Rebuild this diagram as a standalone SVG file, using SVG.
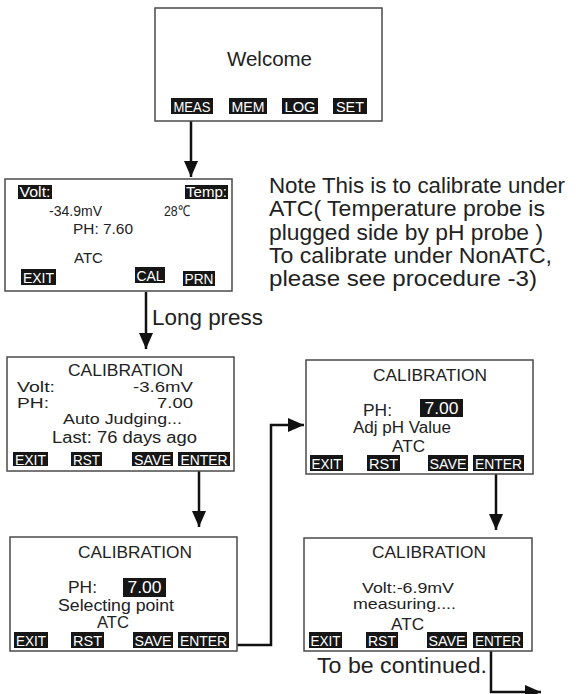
<svg xmlns="http://www.w3.org/2000/svg" width="579" height="694" viewBox="0 0 579 694">
<defs>
<style>
.box{fill:#fff;stroke:#4a4a4a;stroke-width:1.5}
.t{font-family:"Liberation Sans",Arial,sans-serif;fill:#222}
.lb{fill:#161616}
.lt{font-family:"Liberation Sans",Arial,sans-serif;fill:#fff;text-anchor:middle}
.c{fill:none;stroke:#111;stroke-width:2.5}
</style>
<marker id="ah" markerWidth="16" markerHeight="14" refX="16" refY="7" orient="auto" markerUnits="userSpaceOnUse"><path d="M0,0 L16,7 L0,14 z" fill="#111"/></marker>
</defs>
<rect width="579" height="694" fill="#fff"/>

<g id="connectors">
<path class="c" d="M191,121 V177" marker-end="url(#ah)"/>
<path class="c" d="M146,292 V349" marker-end="url(#ah)"/>
<path class="c" d="M199,471 V527" marker-end="url(#ah)"/>
<path class="c" d="M237,645 H271 V425 H304" marker-end="url(#ah)"/>
<path class="c" d="M496,474 V530" marker-end="url(#ah)"/>
<path class="c" d="M491,651 V692 H541" marker-end="url(#ah)"/>
</g>

<g id="welcome">
<rect class="box" x="155" y="8" width="227" height="113"/>
<text class="t" x="227" y="66" font-size="20" textLength="85" lengthAdjust="spacingAndGlyphs">Welcome</text>
<rect class="lb" x="171" y="98" width="42" height="16"/><text class="lt" x="192" y="111.5" font-size="14" textLength="37" lengthAdjust="spacingAndGlyphs">MEAS</text>
<rect class="lb" x="229" y="98" width="38" height="16"/><text class="lt" x="248" y="111.5" font-size="14" textLength="33" lengthAdjust="spacingAndGlyphs">MEM</text>
<rect class="lb" x="282" y="98" width="36" height="16"/><text class="lt" x="300" y="111.5" font-size="14" textLength="31" lengthAdjust="spacingAndGlyphs">LOG</text>
<rect class="lb" x="333" y="98" width="34" height="16"/><text class="lt" x="350" y="111.5" font-size="14" textLength="28" lengthAdjust="spacingAndGlyphs">SET</text>
</g>

<g id="measure">
<rect class="box" x="5" y="179" width="227" height="112"/>
<rect class="lb" x="18" y="185" width="34" height="14"/><text class="lt" x="35" y="197" font-size="14" textLength="31" lengthAdjust="spacingAndGlyphs">Volt:</text>
<rect class="lb" x="185" y="185" width="43" height="14"/><text class="lt" x="206.5" y="197" font-size="14" textLength="41" lengthAdjust="spacingAndGlyphs">Temp:</text>
<text class="t" x="49" y="216" font-size="15" textLength="53" lengthAdjust="spacingAndGlyphs">-34.9mV</text>
<text class="t" x="164" y="216" font-size="15" textLength="26" lengthAdjust="spacingAndGlyphs">28℃</text>
<text class="t" x="73" y="234" font-size="15" textLength="60" lengthAdjust="spacingAndGlyphs">PH:  7.60</text>
<text class="t" x="74" y="263" font-size="15" textLength="29" lengthAdjust="spacingAndGlyphs">ATC</text>
<rect class="lb" x="21" y="269" width="35" height="16"/><text class="lt" x="38.5" y="282.5" font-size="15" textLength="31" lengthAdjust="spacingAndGlyphs">EXIT</text>
<rect class="lb" x="135" y="267" width="30" height="16"/><text class="lt" x="150" y="280.5" font-size="15" textLength="27" lengthAdjust="spacingAndGlyphs">CAL</text>
<rect class="lb" x="183" y="271" width="32" height="15"/><text class="lt" x="199" y="284" font-size="15" textLength="29" lengthAdjust="spacingAndGlyphs">PRN</text>
</g>

<g id="note">
<text class="t" x="269" y="193" font-size="22" textLength="296" lengthAdjust="spacingAndGlyphs">Note This is to calibrate under</text>
<text class="t" x="269" y="216" font-size="22" textLength="276" lengthAdjust="spacingAndGlyphs">ATC( Temperature probe is</text>
<text class="t" x="269" y="239.5" font-size="22" textLength="274" lengthAdjust="spacingAndGlyphs">plugged side by pH probe )</text>
<text class="t" x="269" y="262.5" font-size="22" textLength="283" lengthAdjust="spacingAndGlyphs">To calibrate under NonATC,</text>
<text class="t" x="269" y="286" font-size="22" textLength="268" lengthAdjust="spacingAndGlyphs">please see procedure -3)</text>
</g>

<g id="long-press">
<text class="t" x="152" y="325" font-size="22" textLength="111" lengthAdjust="spacingAndGlyphs">Long press</text>
</g>

<g id="cal-auto">
<rect class="box" x="7" y="357" width="227" height="114"/>
<text class="t" x="68" y="376" font-size="16" textLength="115" lengthAdjust="spacingAndGlyphs">CALIBRATION</text>
<text class="t" x="17" y="392" font-size="15" textLength="38" lengthAdjust="spacingAndGlyphs">Volt:</text>
<text class="t" x="133" y="392" font-size="15" textLength="60" lengthAdjust="spacingAndGlyphs">-3.6mV</text>
<text class="t" x="17" y="407.5" font-size="15" textLength="32" lengthAdjust="spacingAndGlyphs">PH:</text>
<text class="t" x="157" y="407.5" font-size="15" textLength="36" lengthAdjust="spacingAndGlyphs">7.00</text>
<text class="t" x="63" y="424" font-size="15.5" textLength="119" lengthAdjust="spacingAndGlyphs">Auto Judging...</text>
<text class="t" x="52" y="442.5" font-size="16" textLength="145" lengthAdjust="spacingAndGlyphs">Last: 76 days ago</text>
<rect class="lb" x="13" y="452" width="35" height="14"/><text class="lt" x="30.5" y="464.5" font-size="14" textLength="31" lengthAdjust="spacingAndGlyphs">EXIT</text>
<rect class="lb" x="71" y="452" width="31" height="14"/><text class="lt" x="86.5" y="464.5" font-size="14" textLength="27" lengthAdjust="spacingAndGlyphs">RST</text>
<rect class="lb" x="132" y="452" width="41" height="14"/><text class="lt" x="152.5" y="464.5" font-size="14" textLength="37" lengthAdjust="spacingAndGlyphs">SAVE</text>
<rect class="lb" x="178" y="452" width="52" height="14"/><text class="lt" x="204" y="464.5" font-size="14" textLength="47" lengthAdjust="spacingAndGlyphs">ENTER</text>
</g>

<g id="cal-adj">
<rect class="box" x="306" y="360" width="227" height="114"/>
<text class="t" x="373" y="381" font-size="16" textLength="114" lengthAdjust="spacingAndGlyphs">CALIBRATION</text>
<text class="t" x="363" y="416" font-size="16" textLength="29" lengthAdjust="spacingAndGlyphs">PH:</text>
<rect class="lb" x="420" y="399" width="43" height="18"/><text class="lt" x="441.5" y="414" font-size="16" textLength="34" lengthAdjust="spacingAndGlyphs">7.00</text>
<text class="t" x="353" y="433" font-size="16" textLength="98" lengthAdjust="spacingAndGlyphs">Adj pH Value</text>
<text class="t" x="392" y="452" font-size="16" textLength="33" lengthAdjust="spacingAndGlyphs">ATC</text>
<rect class="lb" x="310" y="455" width="33" height="16"/><text class="lt" x="326.5" y="468.5" font-size="14" textLength="30" lengthAdjust="spacingAndGlyphs">EXIT</text>
<rect class="lb" x="367" y="455" width="33" height="16"/><text class="lt" x="383.5" y="468.5" font-size="14" textLength="29" lengthAdjust="spacingAndGlyphs">RST</text>
<rect class="lb" x="428" y="455" width="40" height="16"/><text class="lt" x="448" y="468.5" font-size="14" textLength="37" lengthAdjust="spacingAndGlyphs">SAVE</text>
<rect class="lb" x="473" y="455" width="51" height="16"/><text class="lt" x="498.5" y="468.5" font-size="14" textLength="47" lengthAdjust="spacingAndGlyphs">ENTER</text>
</g>

<g id="cal-select">
<rect class="box" x="10" y="537" width="227" height="114"/>
<text class="t" x="78" y="558" font-size="16" textLength="114" lengthAdjust="spacingAndGlyphs">CALIBRATION</text>
<text class="t" x="68" y="593" font-size="16" textLength="29" lengthAdjust="spacingAndGlyphs">PH:</text>
<rect class="lb" x="123" y="578" width="43" height="19"/><text class="lt" x="144.5" y="593" font-size="16" textLength="34" lengthAdjust="spacingAndGlyphs">7.00</text>
<text class="t" x="58" y="611" font-size="16" textLength="116" lengthAdjust="spacingAndGlyphs">Selecting point</text>
<text class="t" x="97" y="628" font-size="16" textLength="32" lengthAdjust="spacingAndGlyphs">ATC</text>
<rect class="lb" x="14" y="632" width="34" height="16"/><text class="lt" x="31" y="645.5" font-size="14" textLength="30" lengthAdjust="spacingAndGlyphs">EXIT</text>
<rect class="lb" x="71" y="632" width="33" height="16"/><text class="lt" x="87.5" y="645.5" font-size="14" textLength="29" lengthAdjust="spacingAndGlyphs">RST</text>
<rect class="lb" x="133" y="632" width="40" height="16"/><text class="lt" x="153" y="645.5" font-size="14" textLength="37" lengthAdjust="spacingAndGlyphs">SAVE</text>
<rect class="lb" x="178" y="632" width="51" height="16"/><text class="lt" x="203.5" y="645.5" font-size="14" textLength="47" lengthAdjust="spacingAndGlyphs">ENTER</text>
</g>

<g id="cal-measuring">
<rect class="box" x="304" y="538" width="228" height="113"/>
<text class="t" x="372" y="558" font-size="16" textLength="114" lengthAdjust="spacingAndGlyphs">CALIBRATION</text>
<text class="t" x="362" y="593" font-size="15.5" textLength="92" lengthAdjust="spacingAndGlyphs">Volt:-6.9mV</text>
<text class="t" x="353" y="609" font-size="15.5" textLength="103" lengthAdjust="spacingAndGlyphs">measuring....</text>
<text class="t" x="391" y="630" font-size="16" textLength="33" lengthAdjust="spacingAndGlyphs">ATC</text>
<rect class="lb" x="309" y="632" width="33" height="16"/><text class="lt" x="325.5" y="645.5" font-size="14" textLength="30" lengthAdjust="spacingAndGlyphs">EXIT</text>
<rect class="lb" x="366" y="632" width="32" height="16"/><text class="lt" x="382" y="645.5" font-size="14" textLength="28" lengthAdjust="spacingAndGlyphs">RST</text>
<rect class="lb" x="427" y="632" width="40" height="16"/><text class="lt" x="447" y="645.5" font-size="14" textLength="37" lengthAdjust="spacingAndGlyphs">SAVE</text>
<rect class="lb" x="473" y="632" width="50" height="16"/><text class="lt" x="498" y="645.5" font-size="14" textLength="46" lengthAdjust="spacingAndGlyphs">ENTER</text>
</g>

<g id="continued">
<text class="t" x="317" y="673" font-size="22" textLength="170" lengthAdjust="spacingAndGlyphs">To be continued.</text>
</g>
</svg>
